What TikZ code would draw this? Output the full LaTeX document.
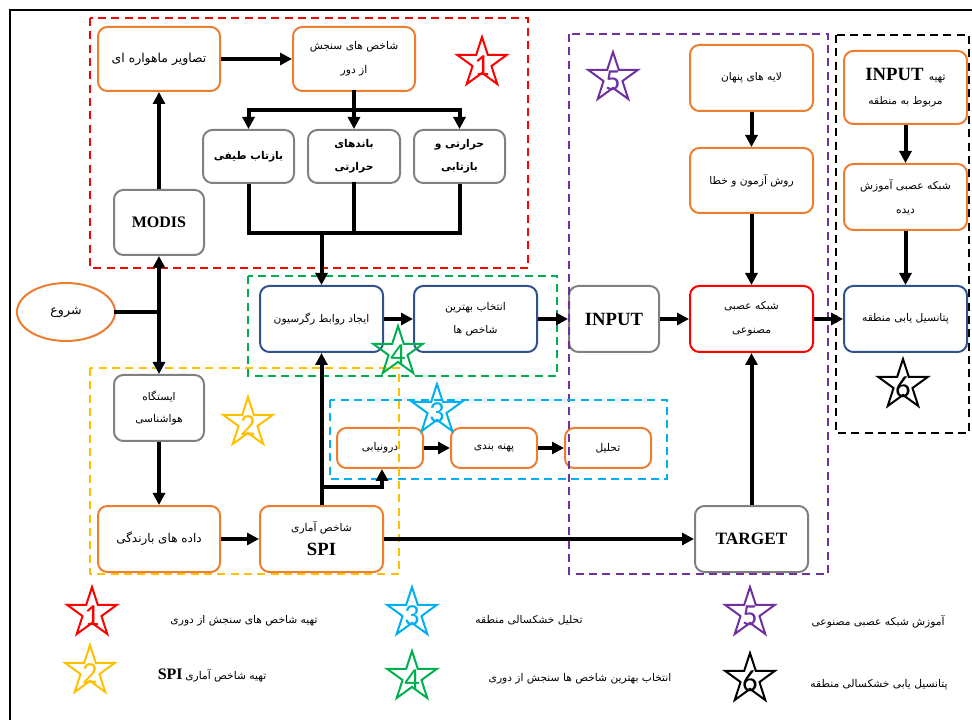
\documentclass[tikz,border=0pt]{standalone}
\usepackage{fontspec}
\setmainfont{Liberation Serif}
\newfontfamily\arabicfont[Script=Arabic]{DejaVu Sans}
\newfontfamily\numfont{Carlito}
\TeXXeTstate=1
\usetikzlibrary{shapes.geometric,arrows.meta}
\newcommand\fa[1]{{\arabicfont\beginR #1\endR}}
\newcommand\lat[2]{{\bfseries\fontsize{#1}{#1}\selectfont #2}}
\newcommand\bx[7][]{\node[#2, minimum width={(#5-#3)*0.75pt}, minimum height={(#6-#4)*0.75pt}, #1] (#7) at ({(#3+#5)/2},{(#4+#6)/2})}
\newcommand\starat[5]{\node[starn=#2] (#1) at (#3,#4) {}; \node[numn=#2] at (#1) {#5};}
\definecolor{myorange}{RGB}{237,125,49}
\definecolor{mygray}{RGB}{128,128,128}
\definecolor{mynavy}{RGB}{47,82,143}
\definecolor{myred}{RGB}{255,0,0}
\definecolor{mypurple}{RGB}{112,48,160}
\definecolor{mygreen}{RGB}{0,176,80}
\definecolor{mycyan}{RGB}{0,176,240}
\definecolor{myyellow}{RGB}{255,192,0}
\tikzset{
  base/.style={rectangle, rounded corners=7pt, line width=1.5pt, inner sep=0pt, align=center,
    font=\fontsize{8}{18}\selectfont},
  obox/.style={base, draw=myorange},
  gbox/.style={base, draw=mygray},
  nbox/.style={base, draw=mynavy},
  rbox/.style={base, draw=myred},
  grp/.style={dashed, line width=1.5pt, dash pattern=on 6pt off 4pt},
  ln/.style={line width=3pt, line cap=rect},
  arr/.style={line width=3pt, -{Triangle[length=9pt,width=9pt]}},
  starn/.style={star, star points=5, star point ratio=2.618, draw=#1, line width=1.5pt,
    minimum size=39pt, inner sep=0pt},
  numn/.style={text=#1, inner sep=0pt, yshift=-2pt, font=\numfont\fontsize{23}{23}\selectfont},
  leg/.style={font=\fontsize{8}{10}\selectfont, inner sep=0pt}
}
\begin{document}
\begin{tikzpicture}[x=0.75pt,y=-0.75pt]
\useasboundingbox (0,0) rectangle (972,720);
% frame
\draw[line width=2.2pt] (10,720) -- (10,10) -- (972,10);

% nodes
\bx[font=\fontsize{9.3}{18}\selectfont]{obox}{98}{27}{220}{91}{sat} {\fa{تصاویر ماهواره ای}};
\bx{obox}{293}{27}{415}{91}{rs} {\fa{شاخص های سنجش}\\\fa{از دور}};
\bx[font=\bfseries\fontsize{8}{17.5}\selectfont]{gbox}{203}{130}{294}{183}{spec} {\fa{بازتاب طیفی}};
\bx[font=\bfseries\fontsize{8}{17.5}\selectfont]{gbox}{308}{130}{400}{183}{therm} {\fa{باندهای}\\\fa{حرارتی}};
\bx[font=\bfseries\fontsize{8}{17.5}\selectfont]{gbox}{414}{130}{505}{183}{thref} {\fa{حرارتی و}\\\fa{بازتابی}};
\bx{gbox}{114}{190}{204}{255}{modis} {\lat{12}{MODIS}};
\bx[ellipse, draw=myorange, line width=1.5pt, inner sep=0pt, font=\fontsize{9.5}{10}\selectfont]{}{17}{283}{115}{341}{start} {\fa{شروع}};
\bx{nbox}{260}{286}{383}{352}{reg} {\fa{ایجاد روابط رگرسیون}};
\bx[font=\fontsize{8}{17.5}\selectfont]{nbox}{414}{286}{537}{352}{best} {\fa{انتخاب بهترین}\\\fa{شاخص ها}};
\bx{gbox}{569}{286}{659}{352}{input} {\lat{14}{INPUT}};
\bx{rbox}{690}{286}{813}{352}{ann} {\fa{شبکه عصبی}\\\fa{مصنوعی}};
\bx{nbox}{844}{286}{967}{352}{pot} {\fa{پتانسیل یابی منطقه}};
\bx{obox}{690}{45}{813}{111}{hid} {\fa{لایه های پنهان}};
\bx{obox}{690}{148}{813}{213}{trial} {\fa{روش آزمون و خطا}};
\bx{obox}{844}{51}{967}{124}{inreg} {\lat{14}{INPUT}\ \ \fa{تهیه}\\\fa{مربوط به منطقه}};
\bx{obox}{844}{164}{967}{230}{trained} {\fa{شبکه عصبی آموزش}\\\fa{دیده}};
\bx[font=\fontsize{8}{17}\selectfont]{gbox}{114}{375}{204}{441}{station} {\fa{ایستگاه}\\\fa{هواشناسی}};
\bx[font=\fontsize{9}{17}\selectfont]{obox}{98}{506}{220}{572}{rain} {\fa{داده های بارندگی}};
\bx{obox}{260}{506}{383}{572}{spi} {\fa{شاخص آماری}\\\lat{14}{SPI}};
\bx{gbox}{695}{506}{808}{572}{target} {\lat{13}{TARGET}};
\bx{obox}{337}{428}{423}{468}{dur} {\fa{درونیابی}};
\bx{obox}{451}{428}{537}{468}{zone} {\fa{پهنه بندی}};
\bx{obox}{565}{428}{651}{468}{anal} {\fa{تحلیل}};

% group boxes
\draw[grp, myred] (90,18) rectangle (528,268);
\draw[grp, mypurple] (569,34) rectangle (828,574);
\draw[grp, black] (836,35) rectangle (969,433);
\draw[grp, mygreen] (248,276) rectangle (557,376);
\draw[grp, myyellow] (90,368) rectangle (399,574);
\draw[grp, mycyan] (330,400) rectangle (667,479);

% stars in diagram
\starat{s1}{myred}{482}{63}{1}
\starat{s5}{mypurple}{613}{78}{5}
\starat{s2}{myyellow}{248}{423}{2}
\starat{s4}{mygreen}{398}{352}{4}
\starat{s3}{mycyan}{437}{410}{3}
\starat{s6}{black}{903}{385}{6}

% legend
\starat{l1}{myred}{92}{613}{1}
\starat{l2}{myyellow}{90}{671}{2}
\starat{l3}{mycyan}{412}{613}{3}
\starat{l4}{mygreen}{412}{677}{4}
\starat{l5}{mypurple}{750}{613}{5}
\starat{l6}{black}{750}{679}{6}
\node[leg] (t1) at (244,621) {\fa{تهیه شاخص های سنجش از دوری}};
\node[leg] (t2) at (212,676) {\lat{12}{SPI}\ \fa{تهیه شاخص آماری}};
\node[leg] (t3) at (529,620) {\fa{تحلیل خشکسالی منطقه}};
\node[leg] (t4) at (580,679) {\fa{انتخاب بهترین شاخص ها سنجش از دوری}};
\node[leg] (t5) at (878,622) {\fa{آموزش شبکه عصبی مصنوعی}};
\node[leg] (t6) at (879,685) {\fa{پتانسیل یابی خشکسالی منطقه}};

% connectors
\draw[arr] (sat) -- (rs);
\coordinate (bl) at (248.5,110);
\coordinate (bc) at (354,110);
\coordinate (br) at (459.5,110);
\draw[ln] (rs) -- (bc);
\draw[ln] (bl) -- (br);
\draw[arr] (bl) -- (spec);
\draw[arr] (bc) -- (therm);
\draw[arr] (br) -- (thref);
\coordinate (ml) at (248.5,233);
\coordinate (mr) at (459.5,233);
\coordinate (mc) at (321.5,233);
\draw[line width=3pt] (spec) -- (ml) -- (mr) -- (thref);
\draw[ln] (therm) -- (therm |- ml);
\draw[arr] (mc) -- (reg);
\draw[arr] (modis) -- (sat);
\coordinate (j) at (159,312);
\draw[ln] (start) -- (j);
\draw[arr] (j) -- (modis);
\draw[arr] (j) -- (station);
\draw[arr] (station) -- (rain);
\draw[arr] (rain) -- (spi);
\draw[arr] (spi) -- (reg);
\coordinate (sb) at (321.5,487);
\coordinate (sc) at (382,487);
\draw[arr] (sb) -- (sc) -- (sc |- dur.south);
\draw[arr] (dur) -- (zone);
\draw[arr] (zone) -- (anal);
\draw[arr] (spi) -- (target);
\draw[arr] (reg) -- (best);
\draw[arr] (best) -- (input);
\draw[arr] (input) -- (ann);
\draw[arr] (ann) -- (pot);
\draw[arr] (hid) -- (trial);
\draw[arr] (trial) -- (ann);
\draw[arr] (target) -- (ann);
\draw[arr] (inreg) -- (trained);
\draw[arr] (trained) -- (pot);
\end{tikzpicture}
\end{document}
